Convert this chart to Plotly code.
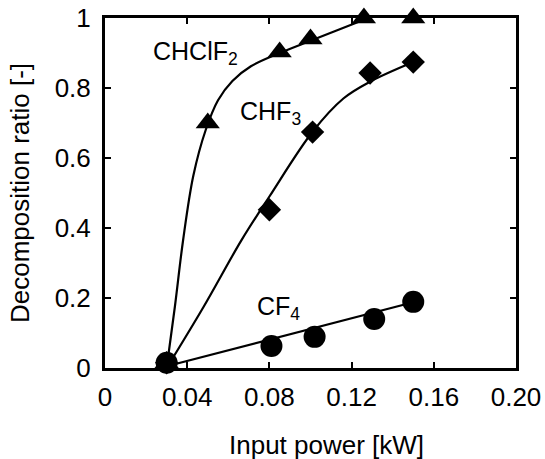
import plotly.graph_objects as go

# ---- data ----
x_ticks = [0, 0.04, 0.08, 0.12, 0.16, 0.20]
x_tick_text = ["0", "0.04", "0.08", "0.12", "0.16", "0.20"]
y_ticks = [0, 0.2, 0.4, 0.6, 0.8, 1.0]
y_tick_text = ["0", "0.2", "0.4", "0.6", "0.8", "1"]

# measured points
chclf2_x = [0.030, 0.050, 0.085, 0.100, 0.126, 0.150]
chclf2_y = [0.015, 0.700, 0.903, 0.940, 1.000, 1.000]
chf3_x = [0.030, 0.080, 0.101, 0.129, 0.150]
chf3_y = [0.015, 0.452, 0.674, 0.843, 0.874]
cf4_x = [0.030, 0.081, 0.102, 0.131, 0.150]
cf4_y = [0.015, 0.063, 0.089, 0.140, 0.189]

# fitted curves
chclf2_fit_x = [0.030, 0.034, 0.038, 0.043, 0.049, 0.055, 0.062, 0.071, 0.085, 0.100, 0.113, 0.126]
chclf2_fit_y = [0.000, 0.175, 0.365, 0.550, 0.680, 0.765, 0.820, 0.862, 0.900, 0.935, 0.965, 0.995]
chf3_fit_x = [0.030, 0.048, 0.0665, 0.080, 0.101, 0.116, 0.129, 0.150]
chf3_fit_y = [0.000, 0.175, 0.366, 0.490, 0.675, 0.770, 0.818, 0.874]
cf4_fit_x = [0.030, 0.150]
cf4_fit_y = [0.005, 0.188]

labels = ["CHClF<sub>2</sub>", "CHF<sub>3</sub>", "CF<sub>4</sub>"]
label_x = [0.0225, 0.0645, 0.073]
label_y = [0.901, 0.730, 0.171]

FONT = "Arial, 'Liberation Sans', sans-serif"
LW = 2.2

fig = go.Figure()

for fx, fy in [(chclf2_fit_x, chclf2_fit_y), (chf3_fit_x, chf3_fit_y), (cf4_fit_x, cf4_fit_y)]:
    fig.add_trace(go.Scatter(x=fx, y=fy, mode="lines",
                             line=dict(color="black", width=LW, shape="spline", smoothing=1.0),
                             hoverinfo="skip", showlegend=False, cliponaxis=False))

fig.add_trace(go.Scatter(x=cf4_x, y=cf4_y, mode="markers", name="CF4",
                         marker=dict(symbol="circle", size=22, color="black"),
                         showlegend=False, cliponaxis=False))
fig.add_trace(go.Scatter(x=chf3_x, y=chf3_y, mode="markers", name="CHF3",
                         marker=dict(symbol="diamond", size=18, color="black"),
                         showlegend=False, cliponaxis=False))
fig.add_trace(go.Scatter(x=chclf2_x, y=chclf2_y, mode="markers", name="CHClF2",
                         marker=dict(symbol="triangle-up", size=21, color="black"),
                         showlegend=False, cliponaxis=False))

for t, lx, ly in zip(labels, label_x, label_y):
    fig.add_annotation(x=lx, y=ly, xref="x", yref="y", text=t, showarrow=False,
                       xanchor="left", yanchor="middle",
                       font=dict(family=FONT, size=25, color="black"))

fig.add_annotation(x=0.54, y=-0.220, xref="paper", yref="paper",
                   text="Input power [kW]", showarrow=False,
                   xanchor="center", yanchor="middle",
                   font=dict(family=FONT, size=26, color="black"))

axis_common = dict(showgrid=False, zeroline=False, showline=True, linecolor="black",
                   linewidth=3, mirror="ticks", ticks="inside", ticklen=6, tickwidth=1.5,
                   tickcolor="black", automargin=False, ticklabeloverflow="allow",
                   tickfont=dict(family=FONT, size=26, color="black"))

fig.update_xaxes(range=[0, 0.20], tickvals=x_ticks, ticktext=x_tick_text,
                 ticklabelstandoff=4, **axis_common)
fig.update_yaxes(range=[0, 1.0], tickvals=y_ticks, ticktext=y_tick_text,
                 ticklabelstandoff=6,
                 title=dict(text="Decomposition ratio [-]", standoff=18,
                            font=dict(family=FONT, size=26, color="black")),
                 **axis_common)

fig.update_layout(width=545, height=459, margin=dict(l=105, r=29, t=18, b=91),
                  plot_bgcolor="white", paper_bgcolor="white",
                  font=dict(family=FONT, color="black"))

# remove the default page margin so the figure sits at the window's corner
fig.write_html("out.html",
               config={"displayModeBar": False},
               post_script="document.body.style.margin='0';document.body.style.overflow='hidden';")
